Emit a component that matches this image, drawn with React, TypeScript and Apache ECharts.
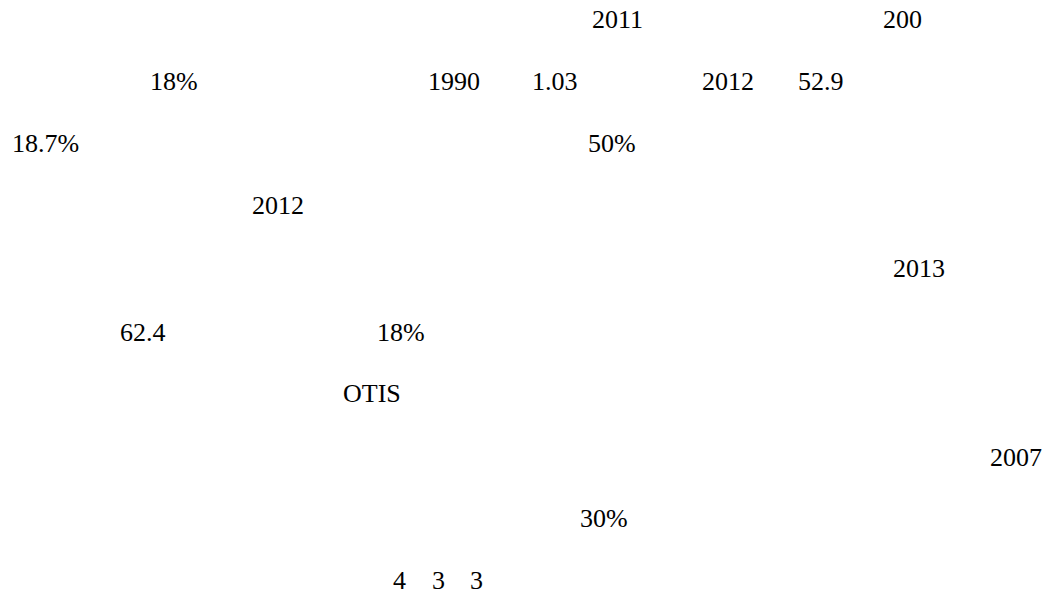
import React, { useEffect, useRef } from "react";
import * as echarts from "echarts";

// Text fragments visible in the reference, row by row
const texts = [
  "2011", "200",
  "18%", "1990", "1.03", "2012", "52.9",
  "18.7%", "50%",
  "2012",
  "2013",
  "62.4", "18%",
  "OTIS",
  "2007",
  "30%",
  "4", "3", "3",
];
// row index of each fragment
const rows = [0, 0, 1, 1, 1, 1, 1, 2, 2, 3, 4, 5, 5, 6, 7, 8, 9, 9, 9];

// layout (left edge in px for each fragment; row centers)
const lefts = [592, 883, 150, 428, 532, 702, 798, 12, 588, 252, 893, 120, 377, 343, 990, 580, 393, 432, 470];
const rowCenters = [19, 81, 143, 205, 268, 332, 393, 457, 518, 580];

const FONT = "Liberation Serif";

export default function App() {
  const ref = useRef<HTMLDivElement>(null);
  useEffect(() => {
    document.body.style.margin = "0";
    if (!ref.current) return;
    const chart = echarts.init(ref.current, undefined, { renderer: "svg" });
    chart.setOption({
      animation: false,
      graphic: texts.map((t, i) => ({
        type: "text",
        x: lefts[i],
        y: rowCenters[rows[i]] - 13,
        style: {
          text: t,
          fill: "#000",
          fontFamily: FONT,
          fontSize: 26,
        },
      })),
    });
    return () => chart.dispose();
  }, []);
  return (
    <div style={{ position: "relative", background: "#fff", fontFamily: FONT }}>
      <div ref={ref} style={{ width: 1063, height: 600 }} />
      <span
        style={{
          position: "absolute",
          right: 2,
          top: 2,
          fontFamily: FONT,
          fontSize: 26,
          color: "#ffffff",
        }}
      >
        .
      </span>
    </div>
  );
}
